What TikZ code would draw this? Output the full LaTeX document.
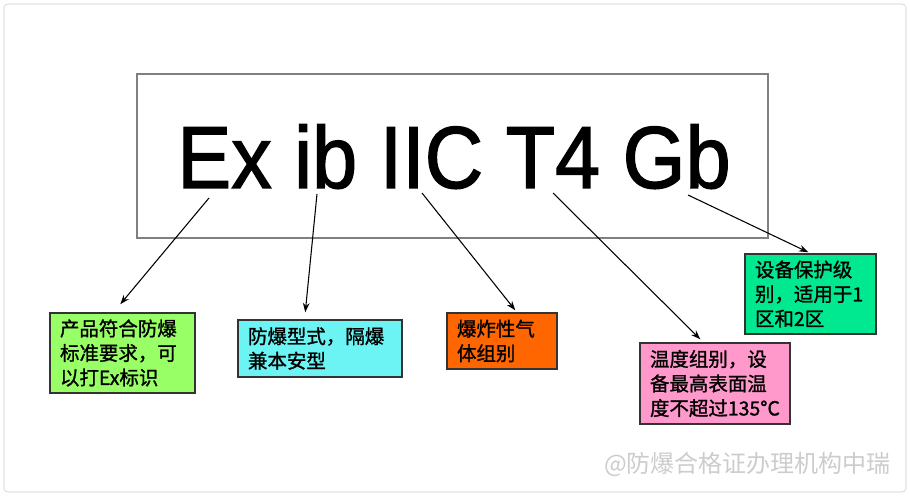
\documentclass[tikz,border=0pt]{standalone}
\usepackage{fontspec}
\setmainfont{Liberation Sans}
\newfontfamily\cjk{Noto Sans CJK SC}[FakeBold=1.2]
\newfontfamily\wmfont{Noto Sans CJK SC}
\newfontfamily\titlefont{Liberation Sans}[FakeBold=1.6]
\usetikzlibrary{arrows.meta,calc}
\definecolor{cgreen}{HTML}{99FF66}
\definecolor{ccyan}{HTML}{6CF4F4}
\definecolor{corange}{HTML}{FF6600}
\definecolor{cpink}{HTML}{FF99CC}
\definecolor{cgreentwo}{HTML}{00E890}
\begin{document}
\begin{tikzpicture}[x=0.75pt,y=0.75pt,
  lbl/.style={draw=black!80, line width=1.1pt, align=left, inner xsep=7.5pt, inner ysep=0pt, font=\cjk\fontsize{14.6}{18.4}\selectfont, anchor=center},
  arr/.style={-{Stealth[length=7pt,width=5pt]}, line width=0.8pt}]
\useasboundingbox (0,0) rectangle (910,500);
\draw[black!12, line width=0.8pt, rounded corners=3pt] (4,8) rectangle (906,496);
\node (frame) [draw=black!50, line width=1.2pt, minimum width=473.25pt, minimum height=123pt, inner sep=0pt] at (452.5,344) {};
\node (title) [anchor=base, inner sep=0pt, font=\titlefont\fontsize{66}{66}\selectfont] at (454,312) {\scalebox{0.92}[1]{Ex ib IIC T4 Gb}};
\coordinate (s1) at (209,302);
\coordinate (s2) at (317,306);
\coordinate (s3) at (422,307);
\coordinate (s4) at (553,307);
\coordinate (s5) at (688,305);
\node (g1) [lbl, fill=cgreen, text width=93.75pt, minimum height=60pt] at (122.5,147) {产品符合防爆\\标准要求，可\\以打Ex标识};
\node (c1) [lbl, fill=ccyan, text width=108pt, minimum height=42.75pt] at (320,151.5) {防爆型式，隔爆\\兼本安型};
\node (o1) [lbl, fill=corange, text width=67.5pt, minimum height=42pt] at (502,159) {爆炸性气\\体组别};
\node (p1) [lbl, fill=cpink, text width=97.5pt, minimum height=60.75pt] at (715,116.5) {温度组别，设\\备最高表面温\\度不超过135°C};
\node (g2) [lbl, fill=cgreentwo, text width=83.25pt, minimum height=60pt] at (810.5,206) {设备保护级\\别，适用于1\\区和2区};
\draw[arr] (s1) -- ($(g1.north west)+(71,8)$);
\draw[arr] (s2) -- ($(c1.north west)+(68,7)$);
\draw[arr] (s3) -- ($(o1.north west)+(69,2)$);
\draw[arr] (s4) -- ($(p1.north west)+(61,3)$);
\draw[arr] (s5) -- ($(g2.north west)+(64,1)$);
\node (wm) [anchor=west, inner sep=0pt, text=black!20, font=\wmfont\fontsize{18}{18}\selectfont] at (604,36) {@防爆合格证办理机构中瑞};
\end{tikzpicture}
\end{document}
